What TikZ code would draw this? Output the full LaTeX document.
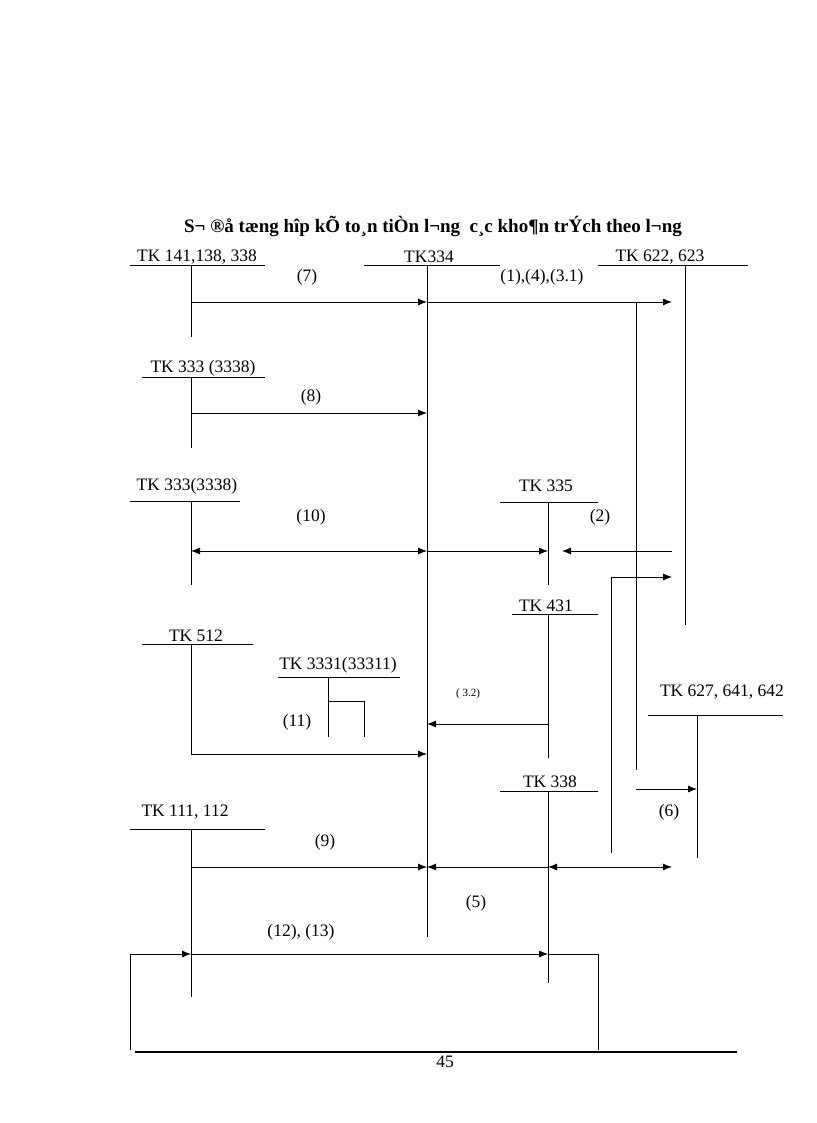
\documentclass[tikz,border=0pt]{standalone}
\usepackage{fontspec}
\setmainfont{Liberation Serif}
\usetikzlibrary{arrows.meta}
\begin{document}
\begin{tikzpicture}[x=1pt,y=-1pt,
  ln/.style={line width=0.8pt},
  ar/.style={ln,-{Latex[length=9pt,width=7pt]}},
  dar/.style={ln,{Latex[length=9pt,width=7pt]}-{Latex[length=9pt,width=7pt]}},
  lab/.style={font=\fontsize{17.5}{19}\selectfont,inner sep=0},
  small/.style={font=\fontsize{11}{12}\selectfont,inner sep=0}]
\useasboundingbox (0,0) rectangle (816,1123);
\node[inner sep=0,font=\bfseries\fontsize{19}{21}\selectfont] (title) at (433,226) {S¬ ®å tæng hîp kÕ to¸n tiÒn l­¬ng\ \ c¸c kho¶n trÝch theo l­¬ng};
\node[lab] (t141) at (197,257) {TK 141,138, 338};
\draw[ln] (130,265) -- (265,265); \draw[ln] (191,265) -- (191,337);
\node[lab] (t334) at (429,257) {TK334};
\draw[ln] (364,265) -- (500,265); \draw[ln] (427,265) -- (427,937);
\node[lab] (t622) at (660,257) {TK 622, 623};
\draw[ln] (598,265) -- (748,265); \draw[ln] (685,265) -- (685,625);
\node[lab] (n7) at (307,277) {(7)};
\node[lab] (n1) at (542,277) {(1),(4),(3.1)};
\draw[ar] (191,302) -- (427,302);
\draw[ar] (427,302) -- (672,302);
\draw[ln] (636,302) -- (636,770);
\draw[ar] (636,789) -- (697,789);
\node[lab] (t333a) at (203,368) {TK 333 (3338)};
\draw[ln] (142,377) -- (265,377); \draw[ln] (191,377) -- (191,448);
\node[lab] (n8) at (311,397) {(8)};
\draw[ar] (191,413) -- (427,413);
\node[lab] (t333b) at (187,486) {TK 333(3338)};
\draw[ln] (130,501) -- (240,501); \draw[ln] (191,501) -- (191,585);
\node[lab] (n10) at (311,517) {(10)};
\draw[dar] (191,551) -- (427,551);
\draw[ar] (427,551) -- (548,551);
\node[lab] (t335) at (546,486) {TK 335};
\draw[ln] (500,502) -- (598,502); \draw[ln] (548,502) -- (548,585);
\node[lab] (n2) at (600,517) {(2)};
\draw[ar] (672,551) -- (562,551);
\draw[ln] (611,853) -- (611,577); \draw[ar] (611,577) -- (672,577);
\node[lab] (t431) at (546,606) {TK 431};
\draw[ln] (512,614) -- (598,614); \draw[ln] (548,614) -- (548,758);
\node[small] (n32) at (468,694) {( 3.2)};
\draw[ar] (548,724) -- (427,724);
\node[lab] (t512) at (196,636) {TK 512};
\draw[ln] (142,644) -- (253,644); \draw[ln] (191,644) -- (191,754);
\draw[ar] (191,754) -- (427,754);
\node[lab] (t3331) at (338,665) {TK 3331(33311)};
\draw[ln] (278,677) -- (400,677); \draw[ln] (328,677) -- (328,737);
\draw[ln] (328,701) -- (364,701) -- (364,737);
\node[lab] (n11) at (297,722) {(11)};
\node[lab] (t627) at (722,692) {TK 627, 641, 642};
\draw[ln] (648,715) -- (783,715); \draw[ln] (697,715) -- (697,858);
\node[lab] (n6) at (669,812) {(6)};
\node[lab] (t338) at (550,782) {TK 338};
\draw[ln] (500,791) -- (598,791); \draw[ln] (548,791) -- (548,983);
\node[lab] (t111) at (185,812) {TK 111, 112};
\draw[ln] (130,829) -- (265,829); \draw[ln] (191,829) -- (191,997);
\node[lab] (n9) at (325,842) {(9)};
\draw[ar] (191,867) -- (427,867);
\draw[ar] (548,867) -- (427,867);
\draw[dar] (548,867) -- (672,867);
\node[lab] (n5) at (476,903) {(5)};
\node[lab] (n12) at (301,932) {(12), (13)};
\draw[ar] (191,954) -- (548,954);
\draw[ar] (130,1050) -- (130,954) -- (191,954);
\draw[ln] (548,954) -- (598,954) -- (598,1050);
\draw[line width=1.4pt] (135,1052) -- (737,1052);
\node[lab] (pg) at (445,1062) {45};
\end{tikzpicture}
\end{document}
